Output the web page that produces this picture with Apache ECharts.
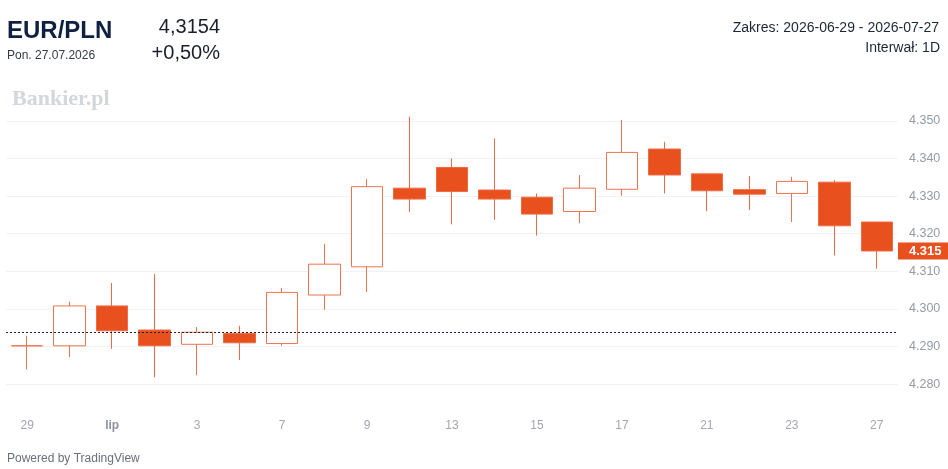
<!DOCTYPE html>
<html>
<head>
<meta charset="utf-8">
<script src="https://cdn.jsdelivr.net/npm/echarts@6/dist/echarts.min.js"></script>
<style>
html,body{margin:0;padding:0;background:#fff;}
#c{width:948px;height:469px;}
</style>
</head>
<body>
<div id="c"></div>
<script>
// Trading days (labels shown every other day)
const dayLabels = ['29','30','lip','2','3','6','7','8','9','10','13','14','15','16','17','20','21','22','23','24','27'];
const opens  = [4.2902,4.2902,4.3008,4.2944,4.2906,4.2935,4.2908,4.3037,4.3112,4.3321,4.3376,4.3316,4.3297,4.3259,4.3318,4.3425,4.3359,4.3317,4.3307,4.3337,4.3231];
const closes = [4.2902,4.3008,4.2942,4.2902,4.2938,4.2910,4.3044,4.3119,4.3325,4.3292,4.3312,4.3292,4.3252,4.3321,4.3416,4.3356,4.3314,4.3305,4.3339,4.3221,4.3154];
const lows   = [4.2839,4.2872,4.2894,4.2818,4.2824,4.2864,4.2902,4.2998,4.3045,4.3258,4.3225,4.3237,4.3195,4.3228,4.3301,4.3307,4.3260,4.3263,4.3231,4.3142,4.3107];
const highs  = [4.2929,4.3019,4.3069,4.3093,4.2952,4.2955,4.3056,4.3173,4.3345,4.3511,4.3400,4.3453,4.3307,4.3356,4.3502,4.3444,4.3359,4.3353,4.3351,4.3343,4.3231];
const baseline = 4.2939;
const lastPrice = 4.3154;
const lastPriceLabel = '4.315';

const candleData = dayLabels.map((d,i)=>[opens[i],closes[i],lows[i],highs[i]]);

const chart = echarts.init(document.getElementById('c'), null, {renderer:'canvas'});
const FONT = 'Liberation Sans, Arial, Helvetica, sans-serif';
chart.setOption({
  animation:false,
  backgroundColor:'#ffffff',
  textStyle:{fontFamily:FONT},
  graphic:[
    {type:'text', left:7, top:19, style:{text:'EUR/PLN', font:'bold 24px '+FONT, fill:'#0f2140'}},
    {type:'text', left:7, top:50, style:{text:'Pon. 27.07.2026', font:'12px '+FONT, fill:'#333a45'}},
    {type:'text', right:728, top:17, style:{text:'4,3154', font:'20px '+FONT, fill:'#1a1f2b', align:'right'}},
    {type:'text', right:728, top:43, style:{text:'+0,50%', font:'20px '+FONT, fill:'#1a1f2b', align:'right'}},
    {type:'text', right:9, top:21, style:{text:'Zakres: 2026-06-29 - 2026-07-27', font:'14px '+FONT, fill:'#1d2535', align:'right'}},
    {type:'text', right:8, top:41, style:{text:'Interwał: 1D', font:'14px '+FONT, fill:'#1d2535', align:'right'}},
    {type:'text', left:12, top:88, style:{text:'Bankier.pl', font:'bold 22px Liberation Serif, Times New Roman, serif', fill:'#d3d6db'}},
    {type:'text', left:7, top:453, style:{text:'Powered by TradingView', font:'12px '+FONT, fill:'#6b6f7a'}}
  ],
  grid:{left:6, right:50, top:102, bottom:66},
  xAxis:{
    type:'category',
    data:dayLabels,
    boundaryGap:true,
    axisLine:{show:false},
    axisTick:{show:false},
    splitLine:{show:false},
    axisLabel:{
      interval:1,
      margin:17,
      color:'#a3a6ae',
      fontSize:12,
      fontFamily:FONT,
      formatter:function(v){ return v==='lip' ? '{b|lip}' : v; },
      rich:{b:{fontWeight:'bold', color:'#8d919b', fontSize:12, fontFamily:FONT}}
    }
  },
  yAxis:{
    type:'value',
    position:'right',
    min:4.275,
    max:4.355,
    interval:0.005,
    scale:true,
    axisLine:{show:false},
    axisTick:{show:false},
    splitLine:{show:true, lineStyle:{color:['rgba(0,0,0,0)','#f0f2f5'], width:1}},
    axisLabel:{
      margin:11,
      color:'#959aa3',
      fontSize:12.5,
      fontFamily:FONT,
      formatter:function(v){
        const k = Math.round(v*1000);
        return (k % 10 === 0) ? (k/1000).toFixed(3) : '';
      }
    }
  },
  series:[{
    type:'candlestick',
    data:candleData,
    barWidth:32,
    itemStyle:{
      color:'#ffffff',
      borderColor:'#ee7350',
      color0:'#e8501e',
      borderColor0:'#ec6a44',
      borderWidth:1
    }
  },{
    type:'line',
    data:[],
    silent:true,
    markLine:{
      silent:true,
      precision:5,
      symbol:['none','none'],
      animation:false,
      data:[
        {yAxis:baseline, lineStyle:{type:[2,2], color:'#1e2330', width:1}, label:{show:false}},
        {yAxis:lastPrice, lineStyle:{color:'rgba(0,0,0,0)', width:1}, label:{
          show:true, position:'end', distance:0,
          formatter:lastPriceLabel,
          backgroundColor:'#e8501e', color:'#ffffff',
          fontWeight:'bold', fontSize:13, fontFamily:FONT,
          padding:[2,9,2,11]
        }}
      ]
    }
  }]
});
</script>
</body>
</html>
